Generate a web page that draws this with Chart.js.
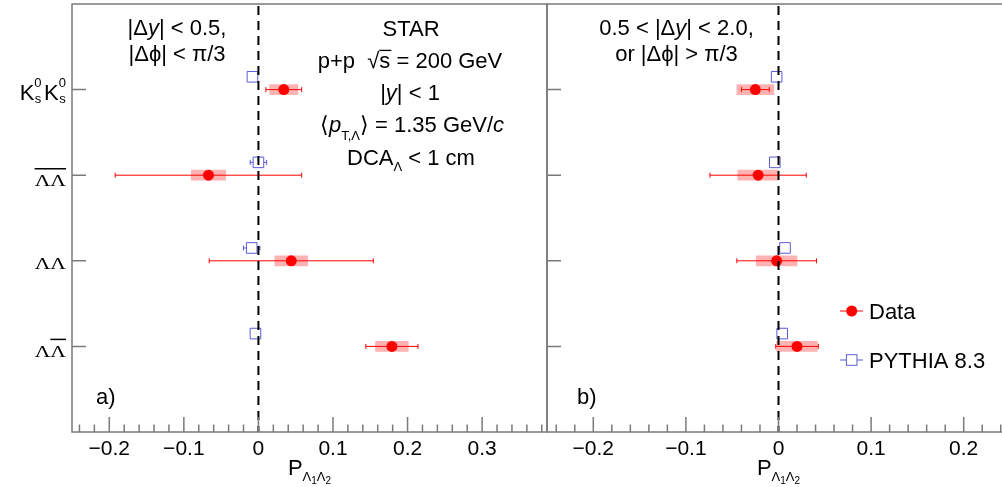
<!DOCTYPE html>
<html>
<head>
<meta charset="utf-8">
<script src="https://cdn.jsdelivr.net/npm/chart.js@4.4.1/dist/chart.umd.min.js"></script>
<style>
  html, body { margin: 0; padding: 0; background: #fff; }
  #wrap { position: relative; width: 1002px; height: 487px; overflow: hidden; background: #fff; }
  canvas { position: absolute; top: 0; }
  #panelA { left: 0; }
  #panelB { left: 530px; }
</style>
</head>
<body>
<div id="wrap">
  <canvas id="panelA" width="549" height="487"></canvas>
  <canvas id="panelB" width="482" height="487"></canvas>
</div>
<script>
// Spin correlation P(Λ1Λ2) per pair type: STAR p+p 200 GeV data vs PYTHIA 8.3

// y slot of each pair type, top to bottom: K0s K0s, anti-Λ anti-Λ, Λ Λ, Λ anti-Λ
const pairPos = [3, 2, 1, 0];

// a) |Δy| < 0.5, |Δφ| < π/3
const dataA      = [0.034, -0.067, 0.044, 0.179];
const statA      = [0.024, 0.125, 0.110, 0.035];
const sysA       = [0.019, 0.023, 0.022, 0.022];
const pythiaA    = [-0.008, 0.000, -0.009, -0.004];
const pythiaErrA = [0.003, 0.011, 0.011, 0.003];

// b) 0.5 < |Δy| < 2.0 or |Δφ| > π/3
const dataB      = [-0.025, -0.022, -0.002, 0.020];
const statB      = [0.015, 0.052, 0.043, 0.023];
const sysB       = [0.020, 0.022, 0.022, 0.022];
const pythiaB    = [-0.002, -0.004, 0.007, 0.004];
const pythiaErrB = [0.003, 0.003, 0.003, 0.003];

const xMajorTicks = [-0.2, -0.1, 0, 0.1, 0.2, 0.3];
const xMinorStep = 0.02;
const xRangeA = [-0.25, 0.387];
const xRangeB = [-0.25, 0.25];

const RED = '#ff0000';
const BLUE = '#5b5bd9';
const FRAME = '#7a7a7a';
const SANS = '"Liberation Sans", Arial, Helvetica, sans-serif';
const SERIF = '"Liberation Serif", "Times New Roman", serif';
const pythiaShift = 0.15;   // PYTHIA points sit a little above the data row

function fmtTick(v) {
  if (Math.abs(v) < 1e-9) return '0';
  return (v < 0 ? '\u2212' : '') + Math.abs(v).toFixed(1);
}

// draws a line of text made of pieces: [text, size, italic, dy, overline]
function drawRich(ctx, parts, x, y, align) {
  const font = p => (p[2] ? 'italic ' : '') + p[1] + 'px ' + SANS;
  let total = 0;
  const widths = parts.map(p => {
    ctx.font = font(p);
    const w = ctx.measureText(p[0]).width;
    total += w;
    return w;
  });
  let cx = align === 'center' ? x - total / 2 : (align === 'right' ? x - total : x);
  parts.forEach((p, i) => {
    ctx.font = font(p);
    ctx.fillText(p[0], cx, y + (p[3] || 0));
    if (p[4]) {
      ctx.lineWidth = 1.3;
      ctx.beginPath();
      ctx.moveTo(cx, y - p[1] * 0.8);
      ctx.lineTo(cx + widths[i] + 1, y - p[1] * 0.8);
      ctx.stroke();
    }
    cx += widths[i];
  });
}

function lambdaPair(ctx, xr, base, bars) {
  const sx = 1.35;
  ctx.font = '16px ' + SERIF;
  const w = ctx.measureText('\u039B').width * sx;
  const x0 = xr - 2 * w;
  bars.forEach((b, k) => {
    ctx.save();
    ctx.translate(x0 + k * w, base);
    ctx.scale(sx, 1);
    ctx.fillText('\u039B', 0, 0);
    ctx.restore();
  });
  ctx.lineWidth = 1.5;
  ctx.beginPath();
  bars.forEach((b, k) => {
    if (!b) return;
    ctx.moveTo(x0 + k * w, base - 17.5);
    ctx.lineTo(x0 + (k + 1) * w, base - 17.5);
  });
  ctx.stroke();
}

function drawPairLabels(ctx, yScale) {
  const xr = 66;
  ctx.fillStyle = '#000';
  ctx.strokeStyle = '#000';
  ctx.textAlign = 'left';
  ctx.textBaseline = 'alphabetic';
  // K0s K0s
  const yk = yScale.getPixelForValue(pairPos[0]);
  ctx.font = '22px ' + SANS;
  const wK = ctx.measureText('K').width;
  ctx.font = '13px ' + SANS;
  const wS = ctx.measureText('0').width + 2.5;
  let cx = xr - 2 * (wK + wS) + 2.5;
  for (let k = 0; k < 2; k++) {
    ctx.font = '22px ' + SANS;
    ctx.fillText('K', cx, yk + 10);
    ctx.font = '13px ' + SANS;
    ctx.fillText('0', cx + wK, yk - 3);
    ctx.fillText('s', cx + wK + 0.5, yk + 13);
    cx += wK + wS;
  }
  lambdaPair(ctx, xr, yScale.getPixelForValue(pairPos[1]) + 11, [true, true]);
  lambdaPair(ctx, xr, yScale.getPixelForValue(pairPos[2]) + 8, [false, false]);
  lambdaPair(ctx, xr, yScale.getPixelForValue(pairPos[3]) + 10.5, [false, true]);
}

// horizontal error bar with end caps; gap leaves the open square empty
function errBar(ctx, x0, x1, xc, yp, gap) {
  ctx.beginPath();
  if (gap > 0) {
    if (xc - gap > x0) { ctx.moveTo(x0, yp); ctx.lineTo(xc - gap, yp); }
    if (xc + gap < x1) { ctx.moveTo(xc + gap, yp); ctx.lineTo(x1, yp); }
  } else {
    ctx.moveTo(x0, yp); ctx.lineTo(x1, yp);
  }
  ctx.moveTo(x0, yp - 2.5); ctx.lineTo(x0, yp + 2.5);
  ctx.moveTo(x1, yp - 2.5); ctx.lineTo(x1, yp + 2.5);
  ctx.stroke();
}

const panelDecor = {
  id: 'panelDecor',
  afterDatasetDraw(chart, args, o) {
    if (args.index !== 0) return;
    const ctx = chart.ctx, xs = chart.scales.x, ys = chart.scales.y;
    ctx.save();
    ctx.lineWidth = 1;
    ctx.strokeStyle = RED;
    o.vals.forEach((v, i) => {
      const yp = ys.getPixelForValue(pairPos[i]);
      errBar(ctx, xs.getPixelForValue(v - o.stat[i]), xs.getPixelForValue(v + o.stat[i]), xs.getPixelForValue(v), yp, 0);
    });
    ctx.strokeStyle = BLUE;
    o.py.forEach((v, i) => {
      const yp = ys.getPixelForValue(pairPos[i] + pythiaShift);
      const x0 = xs.getPixelForValue(v - o.pyErr[i]), x1 = xs.getPixelForValue(v + o.pyErr[i]);
      const xc = xs.getPixelForValue(v);
      if (xc - x0 > 5.5) errBar(ctx, x0, x1, xc, yp, 5.3);
    });
    ctx.restore();
  },
  afterDatasetsDraw(chart, args, o) {
    const ctx = chart.ctx, xs = chart.scales.x, ys = chart.scales.y;
    const a = chart.chartArea;
    ctx.save();

    // dashed zero line
    const x0 = xs.getPixelForValue(0);
    ctx.strokeStyle = '#000';
    ctx.lineWidth = 2;
    ctx.setLineDash([9, 6]);
    ctx.beginPath();
    ctx.moveTo(x0, a.top + 2);
    ctx.lineTo(x0, a.bottom);
    ctx.stroke();
    ctx.setLineDash([]);

    // frame
    ctx.strokeStyle = FRAME;
    ctx.lineWidth = 1.5;
    ctx.strokeRect(a.left, a.top, a.right - a.left, a.bottom - a.top);

    // inward ticks: x major / minor, y at each pair row
    ctx.beginPath();
    const kMin = Math.ceil(xs.min / xMinorStep - 1e-6), kMax = Math.floor(xs.max / xMinorStep + 1e-6);
    for (let k = kMin; k <= kMax; k++) {
      const px = xs.getPixelForValue(k * xMinorStep);
      const len = (k % 5 === 0) ? 15 : 7.5;
      ctx.moveTo(px, a.bottom);
      ctx.lineTo(px, a.bottom - len);
    }
    pairPos.forEach(p => {
      const py = ys.getPixelForValue(p);
      ctx.moveTo(a.left, py);
      ctx.lineTo(a.left + 14, py);
    });
    ctx.stroke();

    ctx.fillStyle = '#000';
    ctx.strokeStyle = '#000';
    ctx.textAlign = 'left';
    ctx.textBaseline = 'alphabetic';

    if (o.pairLabels) drawPairLabels(ctx, ys);

    // axis title P_{Λ1Λ2}
    drawRich(ctx, [['P', 22], ['\u039B', 13, false, 6], ['1', 10, false, 9], ['\u039B', 13, false, 6], ['2', 10, false, 9]],
      (a.left + a.right) / 2, 475, 'center');

    o.text.forEach(t => drawRich(ctx, t.parts, t.x, t.y, t.align || 'center'));

    if (o.legend) {
      const lx0 = 310, lx1 = 333, lc = 321.7;
      const ly1 = 311, ly2 = 360;
      ctx.lineWidth = 1;
      ctx.strokeStyle = RED;
      ctx.beginPath(); ctx.moveTo(lx0, ly1); ctx.lineTo(lx1, ly1); ctx.stroke();
      ctx.fillStyle = RED;
      ctx.beginPath(); ctx.arc(lc, ly1, 5.5, 0, Math.PI * 2); ctx.fill();
      ctx.strokeStyle = BLUE;
      ctx.beginPath();
      ctx.moveTo(lx0, ly2); ctx.lineTo(lc - 5.3, ly2);
      ctx.moveTo(lc + 5.3, ly2); ctx.lineTo(lx1, ly2);
      ctx.stroke();
      ctx.strokeRect(lc - 5.3, ly2 - 5.3, 10.6, 10.6);
      ctx.fillStyle = '#000';
      drawRich(ctx, [['Data', 22]], 339, ly1 + 8, 'left');
      drawRich(ctx, [['PYTHIA 8.3', 22]], 339, ly2 + 8, 'left');
    }
    ctx.restore();
  }
};

function buildPanel(id, range, vals, stat, sys, py, pyErr, pad, decor) {
  const [xMin, xMax] = range;
  return new Chart(document.getElementById(id), {
    type: 'scatter',
    data: {
      datasets: [
        {
          type: 'bar',
          label: 'syst.',
          indexAxis: 'y',
          data: vals.map((v, i) => ({ x: [v - sys[i], v + sys[i]], y: pairPos[i] })),
          backgroundColor: 'rgba(255, 0, 0, 0.3)',
          borderWidth: 0,
          barThickness: 10,
          order: 3
        },
        {
          label: 'PYTHIA 8.3',
          data: py.map((v, i) => ({ x: v, y: pairPos[i] + pythiaShift })),
          pointStyle: 'rect',
          pointRadius: 7.5,
          borderColor: BLUE,
          borderWidth: 1,
          backgroundColor: 'rgba(0, 0, 0, 0)',
          order: 2
        },
        {
          label: 'Data',
          data: vals.map((v, i) => ({ x: v, y: pairPos[i] })),
          pointStyle: 'circle',
          pointRadius: 5.5,
          backgroundColor: RED,
          borderWidth: 0,
          order: 1
        }
      ]
    },
    options: {
      responsive: false,
      animation: false,
      layout: { autoPadding: false, padding: { left: pad[0], right: pad[1], top: 4, bottom: 0 } },
      plugins: {
        legend: { display: false },
        tooltip: { enabled: false },
        panelDecor: Object.assign({ vals, stat, py, pyErr }, decor)
      },
      scales: {
        x: {
          type: 'linear',
          min: xMin,
          max: xMax,
          offset: false,
          grid: { display: false, drawTicks: false },
          border: { display: false },
          afterBuildTicks: ax => {
            ax.ticks = xMajorTicks.filter(v => v >= xMin && v <= xMax).map(v => ({ value: v }));
          },
          afterFit: ax => { ax.height = 55; },
          ticks: {
            padding: 5,
            autoSkip: false,
            maxRotation: 0,
            color: '#000',
            font: { family: SANS, size: 21 },
            callback: v => fmtTick(v)
          }
        },
        y: { type: 'linear', min: -1, max: 4, offset: false, display: false }
      }
    },
    plugins: [panelDecor]
  });
}

buildPanel('panelA', xRangeA, dataA, statA, sysA, pythiaA, pythiaErrA, [72, 2], {
  pairLabels: true,
  legend: false,
  text: [
    { parts: [['|\u0394', 22], ['y', 22, true], ['| < 0.5,', 22]], x: 177, y: 35 },
    { parts: [['|\u0394\u03D5| < \u03C0/3', 22]], x: 177, y: 61 },
    { parts: [['STAR', 22]], x: 411, y: 36 },
    { parts: [['p+p  ', 22], ['\u221A', 22], ['s', 22, false, 0, true], [' = 200 GeV', 22]], x: 410, y: 68 },
    { parts: [['|', 22], ['y', 22, true], ['| < 1', 22]], x: 410, y: 100 },
    { parts: [['\u27E8', 22], ['p', 22, true], ['T,\u039B', 13, false, 8], ['\u27E9 = 1.35 GeV/', 22], ['c', 22, true]], x: 412, y: 132 },
    { parts: [['DCA', 22], ['\u039B', 13, false, 6], [' < 1 cm', 22]], x: 411, y: 165 },
    { parts: [['a)', 22]], x: 96, y: 404, align: 'left' }
  ]
});

buildPanel('panelB', xRangeB, dataB, statB, sysB, pythiaB, pythiaErrB, [17, 2], {
  pairLabels: false,
  legend: true,
  text: [
    { parts: [['0.5 < |\u0394', 22], ['y', 22, true], ['| < 2.0,', 22]], x: 146.5, y: 35 },
    { parts: [['or |\u0394\u03D5| > \u03C0/3', 22]], x: 146.5, y: 61 },
    { parts: [['b)', 22]], x: 47, y: 404, align: 'left' }
  ]
});
</script>
</body>
</html>
